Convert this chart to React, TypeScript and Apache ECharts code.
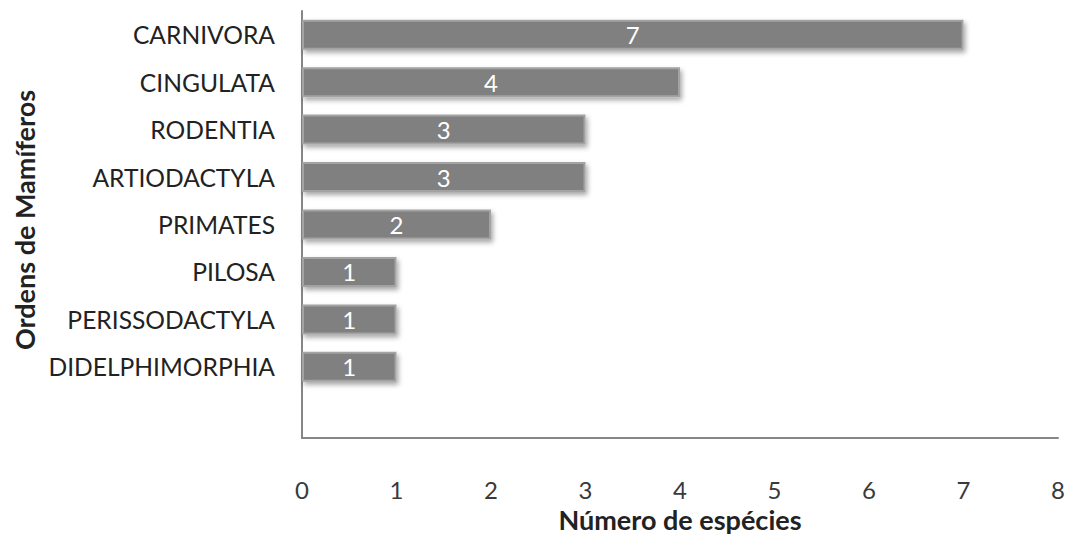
import React, { useEffect, useRef } from "react";
import * as echarts from "echarts";

const categories = ["", "DIDELPHIMORPHIA", "PERISSODACTYLA", "PILOSA", "PRIMATES", "ARTIODACTYLA", "RODENTIA", "CINGULATA", "CARNIVORA"];
const values: (number | null)[] = [null, 1, 1, 1, 2, 3, 3, 4, 7];
const xTicks = [0, 1, 2, 3, 4, 5, 6, 7, 8];

const FONT = "Lato";

export default function App() {
  const ref = useRef<HTMLDivElement>(null);
  useEffect(() => {
    if (!ref.current) return;
    const chart = echarts.init(ref.current, null, { renderer: "svg" });
    chart.setOption({
      animation: false,
      grid: { left: 302, right: 13, top: 11, bottom: 97, containLabel: false },
      xAxis: {
        type: "value",
        min: xTicks[0],
        max: xTicks[xTicks.length - 1],
        interval: 1,
        axisLine: { show: true, lineStyle: { color: "#868686", width: 2 } },
        axisTick: { show: false },
        splitLine: { show: false },
        axisLabel: { margin: 39, fontFamily: FONT, fontSize: 24, color: "#3a3a3a" },
        name: "Número de espécies",
        nameLocation: "middle",
        nameGap: 68,
        nameTextStyle: { fontFamily: FONT, fontSize: 27, fontWeight: "bold", color: "#222" },
      },
      yAxis: {
        type: "category",
        data: categories,
        axisLine: { show: true, lineStyle: { color: "#868686", width: 2 } },
        axisTick: { show: false },
        axisLabel: { margin: 27, fontFamily: FONT, fontSize: 24.6, color: "#222" },
      },
      graphic: [
        {
          type: "text",
          x: 24,
          y: 220,
          rotation: Math.PI / 2,
          style: {
            text: "Ordens de Mamíferos",
            fontFamily: FONT,
            fontSize: 27,
            fontWeight: "bold",
            fill: "#222",
            align: "center",
            verticalAlign: "middle",
          },
        },
      ],
      series: [
        {
          type: "bar",
          data: values,
          barWidth: 30,
          itemStyle: {
            color: "#808080",
            borderColor: "#a3a3a3",
            borderWidth: 2,
            shadowColor: "rgba(0,0,0,0.35)",
            shadowBlur: 5,
            shadowOffsetX: 2,
            shadowOffsetY: 3,
          },
          label: {
            show: true,
            position: "inside",
            color: "#ffffff",
            fontFamily: FONT,
            fontSize: 24,
          },
        },
      ],
    });
    return () => chart.dispose();
  }, []);
  return <div ref={ref} style={{ width: 1071, height: 538, position: "absolute", left: 0, top: 0 }} />;
}
